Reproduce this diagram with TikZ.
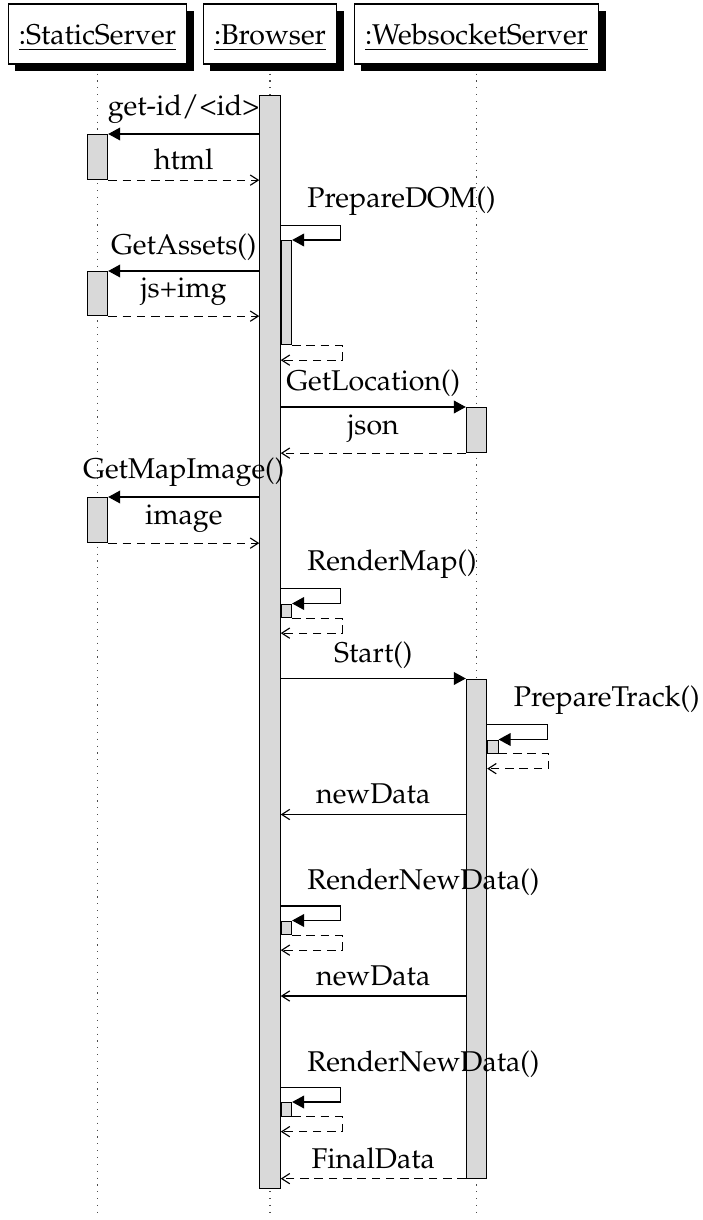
\documentclass[tikz,border=0pt]{standalone}
\usepackage[T1]{fontenc}
\usepackage{mathpazo}
\usetikzlibrary{positioning,shadows,arrows.meta,calc}

\begin{document}
\begin{tikzpicture}[x=0.35pt, y=-0.35pt,
    header/.style={
      draw, fill=white, inner xsep=3.7pt, minimum height=21pt,
      text height=8.9pt, text depth=1.2pt,
      drop shadow={shadow xshift=2.45pt, shadow yshift=-2.45pt, opacity=1, fill=black}
    },
    life/.style={dotted, black!70},
    act/.style={draw, fill=black!15, anchor=north, inner sep=0pt,
      minimum width=7.1pt, minimum height=#1*0.35pt},
    sub/.style={act=#1, anchor=north west, minimum width=3.6pt},
    call/.style={-{Triangle[length=4.2pt,width=4.5pt]}},
    ret/.style={dash pattern=on 3pt off 2pt, -{Straight Barb[length=2.8pt,width=3.6pt]}},
    async/.style={-{Straight Barb[length=2.8pt,width=3.6pt]}},
    selflbl/.style={anchor=south west, xshift=5.8pt},
  ]
    \useasboundingbox (0,0) rectangle (702,1220);

    % objects
    \node[header](stat) at (97.5,34) {\underline{:StaticServer}};
    \node[header](brow) at (270,34) {\underline{:Browser}};
    \node[header](wss) at (476.5,34) {\underline{:WebsocketServer}};

    \draw[life] (stat.south) ++(0,9) -- ++(0,1142);
    \draw[life] (brow.south) ++(0,9) -- ++(0,1142);
    \draw[life] (wss.south) ++(0,9) -- ++(0,1142);

    % activations
    \node[act=1093](bact) at (brow |- 0,95) {};
    \node[act=45](s1) at (stat |- 0,134) {};
    \node[act=44](s2) at (stat |- 0,271) {};
    \node[act=45](s3) at (stat |- 0,497) {};
    \node[act=45](w1) at (wss |- 0,407) {};
    \node[act=499](wact) at (wss |- 0,678.5) {};

    \node[sub=104](dom) at (bact.east |- 0,240) {};
    \node[sub=13.5](map) at (bact.east |- 0,603.5) {};
    \node[sub=13](track) at (wact.east |- 0,739.5) {};
    \node[sub=13.5](rnd1) at (bact.east |- 0,920.5) {};
    \node[sub=13.5](rnd2) at (bact.east |- 0,1102) {};

    \coordinate (nd1) at (0,814.5);
    \coordinate (nd2) at (0,996);

    % messages
    \draw[call] (bact.west |- s1.north) -- node[above]{get-id/<id>} (s1.north east);
    \draw[ret] (s1.south east) -- node[above]{html} (s1.south east -| bact.west);

    \draw[call] (dom.north -| bact.east) ++(0,-14.5) node[selflbl]{PrepareDOM()}
      -- ++(60,0) |- (dom.north east);
    \draw[ret] (dom.south east) -- ++(50,0) -- ++(0,15)
      -- ($(dom.south -| bact.east)+(0,15)$);

    \draw[call] (bact.west |- s2.north) -- node[above]{GetAssets()} (s2.north east);
    \draw[ret] (s2.south east) -- node[above]{js+img} (s2.south east -| bact.west);

    \draw[call] (bact.east |- w1.north) -- node[above]{GetLocation()} (w1.north west);
    \draw[ret] (w1.south west) -- node[above]{json} (w1.south west -| bact.east);

    \draw[call] (bact.west |- s3.north) -- node[above]{GetMapImage()} (s3.north east);
    \draw[ret] (s3.south east) -- node[above]{image} (s3.south east -| bact.west);

    \draw[call] (map.north -| bact.east) ++(0,-15) node[selflbl]{RenderMap()}
      -- ++(60,0) |- (map.north east);
    \draw[ret] (map.south east) -- ++(50,0) -- ++(0,15)
      -- ($(map.south -| bact.east)+(0,15)$);

    \draw[call] (bact.east |- wact.north) -- node[above]{Start()} (wact.north west);

    \draw[call] (track.north -| wact.east) ++(0,-15) node[selflbl]{PrepareTrack()}
      -- ++(60,0) |- (track.north east);
    \draw[ret] (track.south east) -- ++(50,0) -- ++(0,15)
      -- ($(track.south -| wact.east)+(0,15)$);

    \draw[async] (wact.west |- nd1) -- node[above]{newData} (bact.east |- nd1);

    \draw[call] (rnd1.north -| bact.east) ++(0,-14.5) node[selflbl]{RenderNewData()}
      -- ++(60,0) |- (rnd1.north east);
    \draw[ret] (rnd1.south east) -- ++(50,0) -- ++(0,15)
      -- ($(rnd1.south -| bact.east)+(0,15)$);

    \draw[async] (wact.west |- nd2) -- node[above]{newData} (bact.east |- nd2);

    \draw[call] (rnd2.north -| bact.east) ++(0,-14.5) node[selflbl]{RenderNewData()}
      -- ++(60,0) |- (rnd2.north east);
    \draw[ret] (rnd2.south east) -- ++(50,0) -- ++(0,15)
      -- ($(rnd2.south -| bact.east)+(0,15)$);

    \draw[ret] (wact.south west) -- node[above]{FinalData} (wact.south west -| bact.east);

  \end{tikzpicture}
\end{document}
